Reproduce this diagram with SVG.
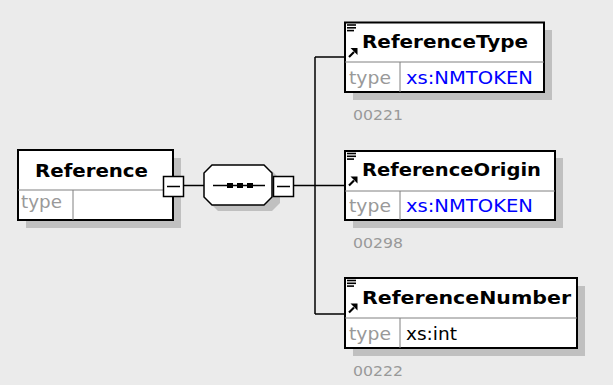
<svg xmlns="http://www.w3.org/2000/svg" width="613" height="385" viewBox="0 0 613 385">
<style>
.bg{fill:#ebebeb}
.shadow{fill:#c0c0c0}
.box{fill:#fff;stroke:#000;stroke-width:2}
.div{stroke:#808080;stroke-width:1}
.conn{stroke:#000;stroke-width:1.5;fill:none}
.title{font-family:"DejaVu Sans",Verdana,sans-serif;font-weight:bold;font-size:18px;fill:#000}
.lbl{font-family:"DejaVu Sans",Verdana,sans-serif;font-size:17px;fill:#999}
.typ{font-family:"DejaVu Sans",Verdana,sans-serif;font-size:17px;fill:#0000ff}
.typk{font-family:"DejaVu Sans",Verdana,sans-serif;font-size:17px;fill:#000}
.num{font-family:"DejaVu Sans",Verdana,sans-serif;font-size:14px;fill:#999}
.ic{stroke:#000;stroke-width:1.6}
</style>
<defs>
<g id="icon">
<line class="ic" x1="347" y1="0" x2="356" y2="0"/>
<line class="ic" x1="347" y1="2.8" x2="356" y2="2.8"/>
<line class="ic" x1="347" y1="5.6" x2="354" y2="5.6"/>
<line x1="349" y1="32" x2="354" y2="27" stroke="#000" stroke-width="2.2"/>
<polygon points="357.5,23 357.5,30 350.5,23" fill="#000"/>
</g>
</defs>
<rect class="bg" x="0" y="0" width="613" height="385"/>

<g id="connectors">
<line class="conn" x1="183" y1="185.5" x2="204" y2="185.5"/>
<line class="conn" x1="293" y1="185.5" x2="345" y2="185.5"/>
<line class="conn" x1="315" y1="57" x2="315" y2="314"/>
<line class="conn" x1="315" y1="57" x2="345" y2="57"/>
<line class="conn" x1="315" y1="314" x2="345" y2="314"/>
</g>

<g id="Reference">
<rect class="shadow" x="26" y="158" width="155" height="70"/>
<rect class="box" x="18" y="150" width="155" height="70"/>
<line class="div" x1="18" y1="190" x2="173" y2="190"/>
<line class="div" x1="73" y1="190" x2="73" y2="220"/>
<text class="title" x="35" y="177" textLength="113" lengthAdjust="spacingAndGlyphs">Reference</text>
<text class="lbl" x="21" y="208" textLength="41" lengthAdjust="spacingAndGlyphs">type</text>
<rect x="163.5" y="176.5" width="20" height="20" fill="#fff" stroke="#000" stroke-width="1.5"/>
<line x1="167" y1="186.5" x2="180" y2="186.5" stroke="#000" stroke-width="1.5"/>
</g>

<g id="sequence">
<polygon class="shadow" points="218,171 272,171 280,179 280,203 272,211 218,211 210,203 210,179"/>
<polygon points="212,165 264,165 272,173 272,197 264,205 212,205 204,197 204,173" fill="#fff" stroke="#000" stroke-width="1.5"/>
<line x1="213" y1="185.5" x2="265" y2="185.5" stroke="#000" stroke-width="1.5"/>
<rect x="227" y="183" width="6" height="5" fill="#000"/>
<rect x="237" y="183" width="6" height="5" fill="#000"/>
<rect x="247" y="183" width="6" height="5" fill="#000"/>
<rect x="273.5" y="176.5" width="20" height="20" fill="#fff" stroke="#000" stroke-width="1.5"/>
<line x1="277" y1="186.5" x2="290" y2="186.5" stroke="#000" stroke-width="1.5"/>
</g>

<g id="ReferenceType">
<rect class="shadow" x="353" y="30" width="199" height="70"/>
<rect class="box" x="345" y="22.5" width="199" height="69.5"/>
<line class="div" x1="345" y1="62" x2="544" y2="62"/>
<line class="div" x1="400" y1="62" x2="400" y2="92"/>
<use href="#icon" transform="translate(0,25)"/>
<text class="title" x="362" y="48" textLength="166" lengthAdjust="spacingAndGlyphs">ReferenceType</text>
<text class="lbl" x="349" y="84" textLength="42" lengthAdjust="spacingAndGlyphs">type</text>
<text class="typ" x="406" y="84" textLength="127" lengthAdjust="spacingAndGlyphs">xs:NMTOKEN</text>
<text class="num" x="353" y="120" textLength="50" lengthAdjust="spacingAndGlyphs">00221</text>
</g>

<g id="ReferenceOrigin">
<rect class="shadow" x="353" y="158" width="210" height="70"/>
<rect class="box" x="345" y="151" width="210" height="69"/>
<line class="div" x1="345" y1="191" x2="555" y2="191"/>
<line class="div" x1="400" y1="191" x2="400" y2="220"/>
<use href="#icon" transform="translate(0,153.5)"/>
<text class="title" x="362" y="176" textLength="179" lengthAdjust="spacingAndGlyphs">ReferenceOrigin</text>
<text class="lbl" x="349" y="212" textLength="42" lengthAdjust="spacingAndGlyphs">type</text>
<text class="typ" x="406" y="212" textLength="127" lengthAdjust="spacingAndGlyphs">xs:NMTOKEN</text>
<text class="num" x="353" y="248" textLength="50" lengthAdjust="spacingAndGlyphs">00298</text>
</g>

<g id="ReferenceNumber">
<rect class="shadow" x="353" y="286" width="232" height="70"/>
<rect class="box" x="345" y="278" width="232" height="70"/>
<line class="div" x1="345" y1="318" x2="577" y2="318"/>
<line class="div" x1="400" y1="318" x2="400" y2="348"/>
<use href="#icon" transform="translate(0,280.5)"/>
<text class="title" x="362" y="304" textLength="209" lengthAdjust="spacingAndGlyphs">ReferenceNumber</text>
<text class="lbl" x="349" y="340" textLength="42" lengthAdjust="spacingAndGlyphs">type</text>
<text class="typk" x="406" y="340" textLength="51" lengthAdjust="spacingAndGlyphs">xs:int</text>
<text class="num" x="353" y="376" textLength="50" lengthAdjust="spacingAndGlyphs">00222</text>
</g>
</svg>
